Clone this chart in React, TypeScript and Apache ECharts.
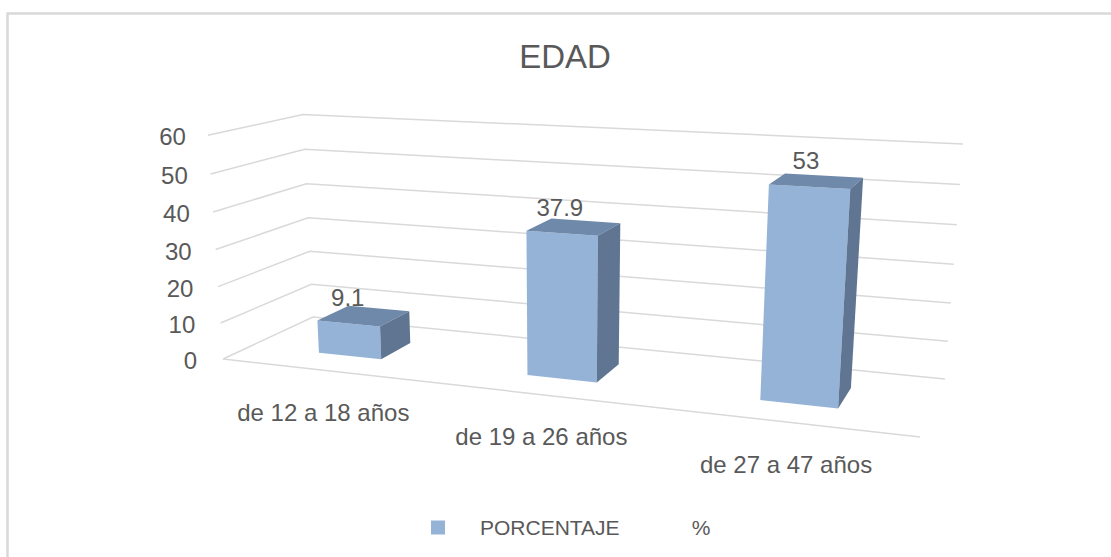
import React, { useEffect, useRef } from "react";
import * as echarts from "echarts";

// ---------- data ----------
const chartTitle = "EDAD";
const categories = ["de 12 a 18 años", "de 19 a 26 años", "de 27 a 47 años"];
const values = [9.1, 37.9, 53];
const yTicks = [0, 10, 20, 30, 40, 50, 60];
const legendParts = ["PORCENTAJE", "%"];

// ---------- style ----------
const TEXT = "#595959";
const GRID = "#d9d9d9";
const FONT = '"Liberation Sans", Arial, sans-serif';
const FRONT = "#95b3d7";
const TOP = "#6f89aa";
const SIDE = "#5f7592";

// ---------- perspective (screen positions of the 3D box) ----------
// floor corners: (x0,z0), (x1,z0), (x1,z1), (x0,z1)
const FLOOR: number[][] = [
  [223, 359],
  [920, 437],
  [945, 379],
  [313, 317],
];
const VA = -24;
const VB = -229.5;
const VC = -0.0427;

function squareToQuad(q: number[][]) {
  const [x0, y0] = q[0];
  const [x1, y1] = q[1];
  const [x2, y2] = q[2];
  const [x3, y3] = q[3];
  const dx1 = x1 - x2, dx2 = x3 - x2, dx3 = x0 - x1 + x2 - x3;
  const dy1 = y1 - y2, dy2 = y3 - y2, dy3 = y0 - y1 + y2 - y3;
  const den = dx1 * dy2 - dy1 * dx2;
  const g = (dx3 * dy2 - dy3 * dx2) / den;
  const h = (dx1 * dy3 - dy1 * dx3) / den;
  return {
    a: x1 - x0 + g * x1,
    b: x3 - x0 + h * x3,
    c: x0,
    d: y1 - y0 + g * y1,
    e: y3 - y0 + h * y3,
    f: y0,
    g,
    h,
  };
}
const H = squareToQuad(FLOOR);

function project(x: number, y: number, z: number): number[] {
  const w = H.g * x + H.h * z + 1 + VC * y;
  return [
    (H.a * x + H.b * z + H.c + VA * y) / w,
    (H.d * x + H.e * z + H.f + VB * y) / w,
  ];
}

const BAR_FRAC = 0.31;
const Z0 = 0.3;
const Z1 = 0.665;

function norm(cs: any, p: number[]) {
  return [(p[0] - cs.x) / cs.width, (cs.y + cs.height - p[1]) / cs.height];
}

const gridSeries = {
  type: "custom",
  name: "grid",
  silent: true,
  clip: false,
  z: 1,
  data: yTicks.map((t) => [0, t]),
  encode: { x: 0, y: 1 },
  renderItem: (params: any, api: any) => {
    const cs = params.coordSys;
    const t = api.value(1);
    const yn = norm(cs, api.coord([0, t]))[1];
    const a = project(0, yn, 0);
    const b = project(0, yn, 1);
    const c = project(1, yn, 1);
    const children: any[] = [
      {
        type: "polyline",
        shape: { points: [a, b, c] },
        style: { stroke: GRID, lineWidth: 1.5, fill: null },
      },
      {
        type: "text",
        x: a[0] - 26 + 4 * yn,
        y: a[1] + 1.5,
        style: {
          text: String(t),
          fill: TEXT,
          fontSize: 24,
          fontFamily: FONT,
          align: "right",
          verticalAlign: "middle",
        },
      },
    ];
    if (t === 0) {
      const r = project(1, 0, 0);
      children.push({
        type: "line",
        shape: { x1: a[0], y1: a[1], x2: r[0], y2: r[1] },
        style: { stroke: GRID, lineWidth: 1.5 },
      });
    }
    return { type: "group", children };
  },
};

const barSeries = {
  type: "custom",
  name: legendParts.join(" "),
  silent: true,
  clip: false,
  z: 2,
  itemStyle: { color: FRONT },
  data: values.map((v, i) => [i, v]),
  encode: { x: 0, y: 1 },
  renderItem: (params: any, api: any) => {
    const cs = params.coordSys;
    const idx = api.value(0);
    const v = api.value(1);
    const [xc, yn] = norm(cs, api.coord([idx, v]));
    const band = api.size([1, 0])[0] / cs.width;
    const hw = (band * BAR_FRAC) / 2;
    const xl = xc - hw;
    const xr = xc + hw;
    const fbl = project(xl, 0, Z0), fbr = project(xr, 0, Z0);
    const ftl = project(xl, yn, Z0), ftr = project(xr, yn, Z0);
    const btl = project(xl, yn, Z1), btr = project(xr, yn, Z1);
    const bbr = project(xr, 0, Z1);
    const lab = project(xc, yn, Z0);
    const cat = project(xc, 0, 0);
    return {
      type: "group",
      children: [
        {
          type: "polygon",
          shape: { points: [fbl, fbr, ftr, ftl] },
          style: { fill: FRONT },
        },
        {
          type: "polygon",
          shape: { points: [ftl, ftr, btr, btl] },
          style: { fill: TOP },
        },
        {
          type: "polygon",
          shape: { points: [fbr, bbr, btr, ftr] },
          style: { fill: SIDE },
        },
        {
          type: "text",
          x: lab[0] - 4 * xc,
          y: lab[1] - 26,
          style: {
            text: String(v),
            fill: TEXT,
            fontSize: 24,
            fontFamily: FONT,
            align: "center",
            verticalAlign: "middle",
          },
        },
        {
          type: "text",
          x: cat[0],
          y: cat[1] + 42,
          style: {
            text: categories[idx],
            fill: TEXT,
            fontSize: 24,
            fontFamily: FONT,
            align: "center",
            verticalAlign: "middle",
          },
        },
      ],
    };
  },
};

const option: any = {
  animation: false,
  backgroundColor: "#ffffff",
  title: {
    text: chartTitle,
    left: 565,
    top: 40,
    textAlign: "center",
    padding: 0,
    textStyle: { fontSize: 33, fontWeight: "normal", color: TEXT, fontFamily: FONT },
  },
  legend: {
    left: 431,
    top: 517,
    padding: 0,
    itemWidth: 14,
    itemHeight: 14,
    selectedMode: false,
    data: [{ name: legendParts.join(" "), icon: "rect" }],
    formatter: () => `{a|${legendParts[0]}}{b|${legendParts[1]}}`,
    textStyle: {
      color: TEXT,
      fontFamily: FONT,
      fontSize: 21,
      rich: {
        a: { color: TEXT, fontFamily: FONT, fontSize: 21, padding: [0, 0, 0, 30] },
        b: { color: TEXT, fontFamily: FONT, fontSize: 21, padding: [0, 0, 0, 72] },
      },
    },
  },
  grid: { left: 100, top: 100, width: 600, height: 300, show: false },
  xAxis: { type: "category", data: categories, show: false },
  yAxis: { type: "value", min: 0, max: 60, interval: 10, show: false },
  graphic: [
    {
      type: "rect",
      silent: true,
      shape: { x: 7.5, y: 13.5, width: 1200, height: 600 },
      style: { fill: null, stroke: GRID, lineWidth: 2.5 },
    },
  ],
  series: [gridSeries, barSeries],
};

export default function App() {
  const ref = useRef<HTMLDivElement>(null);
  useEffect(() => {
    if (!ref.current) return;
    const chart = echarts.init(ref.current, null, { renderer: "svg" });
    chart.setOption(option);
    return () => chart.dispose();
  }, []);
  return (
    <div
      ref={ref}
      style={{ position: "fixed", left: 0, top: 0, width: 1111, height: 557, background: "#fff" }}
    />
  );
}
